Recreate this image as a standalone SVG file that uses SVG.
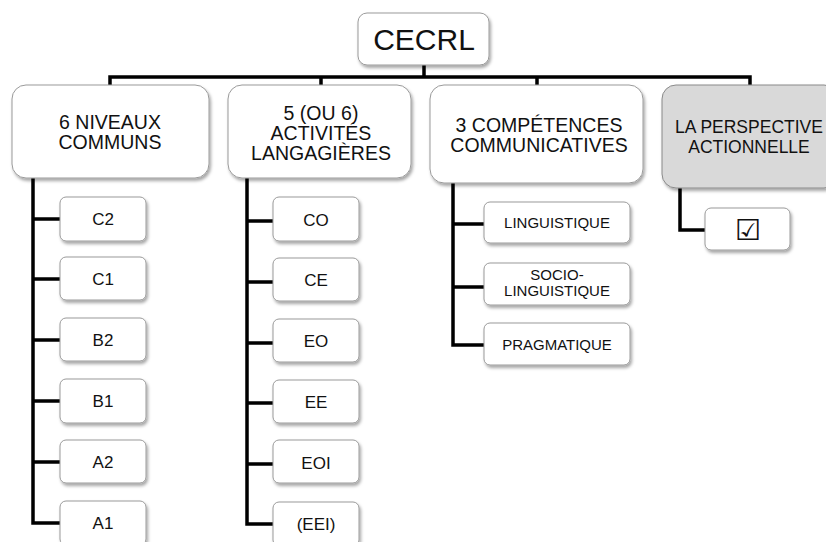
<svg xmlns="http://www.w3.org/2000/svg" width="826" height="542" viewBox="0 0 826 542">
<defs>
<filter id="sh" x="-20%" y="-20%" width="140%" height="150%">
<feDropShadow dx="1.5" dy="2.5" stdDeviation="1.5" flood-color="#000" flood-opacity="0.35"/>
</filter>
</defs>
<style>
.b{fill:#fff;stroke:#9a9a9a;stroke-width:1;filter:url(#sh)}
.g{fill:#d9d9d9;stroke:#8a8a8a;stroke-width:1;filter:url(#sh)}
text{font-family:"Liberation Sans",Arial,sans-serif;fill:#111;text-anchor:middle}
.t1{font-size:19.5px}
.t2{font-size:17px}
.t3{font-size:15px}
.c{fill:none;stroke:#000;stroke-width:3.5}
</style>
<rect width="826" height="542" fill="#fff"/>
<g id="connectors">
<path class="c" d="M424 65V77M110 85V77H750V85M321 77V85M537 77V85"/>
<path class="c" d="M33 178V523H60M33 219H60M33 279H60M33 340H60M33 401H60M33 462H60"/>
<path class="c" d="M247 178V524H273M247 221H273M247 282H273M247 343H273M247 403H273M247 464H273"/>
<path class="c" d="M453 183V345H484M453 224H484M453 287H484"/>
<path class="c" d="M680 188V230H705"/>
</g>
<g id="cecrl"><rect class="b" x="358" y="13" width="131" height="52" rx="9"/><text x="424" y="50" style="font-size:30px">CECRL</text></g>
<g id="niveaux"><rect class="b" x="12" y="85" width="197" height="93" rx="14"/><text class="t1" x="110" y="129">6 NIVEAUX</text><text class="t1" x="110" y="149">COMMUNS</text></g>
<g id="activites"><rect class="b" x="228" y="85" width="183" height="93" rx="14"/><text class="t1" x="321" y="120">5 (OU 6)</text><text class="t1" x="321" y="140">ACTIVITÉS</text><text class="t1" x="321" y="160">LANGAGIÈRES</text></g>
<g id="competences"><rect class="b" x="430" y="85" width="213" height="98" rx="14"/><text class="t1" x="539" y="132">3 COMPÉTENCES</text><text class="t1" x="539" y="152">COMMUNICATIVES</text></g>
<g id="perspective"><rect class="g" x="662" y="85" width="176" height="103" rx="14"/><text x="749" y="133" style="font-size:17.5px">LA PERSPECTIVE</text><text x="749" y="153" style="font-size:17.5px">ACTIONNELLE</text></g>
<g id="c2"><rect class="b" x="60" y="197" width="86" height="44" rx="6"/><text class="t2" x="103" y="225">C2</text></g>
<g id="c1"><rect class="b" x="60" y="257" width="86" height="43" rx="6"/><text class="t2" x="103" y="285">C1</text></g>
<g id="b2"><rect class="b" x="60" y="318" width="86" height="43" rx="6"/><text class="t2" x="103" y="346">B2</text></g>
<g id="b1"><rect class="b" x="60" y="379" width="86" height="44" rx="6"/><text class="t2" x="103" y="407">B1</text></g>
<g id="a2"><rect class="b" x="60" y="440" width="86" height="43" rx="6"/><text class="t2" x="103" y="468">A2</text></g>
<g id="a1"><rect class="b" x="60" y="501" width="86" height="44" rx="6"/><text class="t2" x="103" y="529">A1</text></g>
<g id="co"><rect class="b" x="273" y="197" width="86" height="44" rx="6"/><text class="t2" x="316" y="226">CO</text></g>
<g id="ce"><rect class="b" x="273" y="258" width="86" height="43" rx="6"/><text class="t2" x="316" y="286">CE</text></g>
<g id="eo"><rect class="b" x="273" y="319" width="86" height="43" rx="6"/><text class="t2" x="316" y="347">EO</text></g>
<g id="ee"><rect class="b" x="273" y="380" width="86" height="43" rx="6"/><text class="t2" x="316" y="408">EE</text></g>
<g id="eoi"><rect class="b" x="273" y="440" width="86" height="43" rx="6"/><text class="t2" x="316" y="469">EOI</text></g>
<g id="eei"><rect class="b" x="273" y="502" width="86" height="44" rx="6"/><text class="t2" x="316" y="530">(EEI)</text></g>
<g id="linguistique"><rect class="b" x="484" y="202" width="146" height="41" rx="6"/><text class="t3" x="557" y="228">LINGUISTIQUE</text></g>
<g id="socio"><rect class="b" x="484" y="263" width="146" height="42" rx="6"/><text class="t3" x="557" y="280">SOCIO-</text><text class="t3" x="557" y="296">LINGUISTIQUE</text></g>
<g id="pragmatique"><rect class="b" x="484" y="323" width="146" height="42" rx="6"/><text class="t3" x="557" y="350">PRAGMATIQUE</text></g>
<g id="check"><rect class="b" x="705" y="208" width="85" height="42" rx="6"/><text x="748" y="240" style="font-family:'DejaVu Sans',sans-serif;font-size:29px;font-weight:bold">☑</text></g>
</svg>
